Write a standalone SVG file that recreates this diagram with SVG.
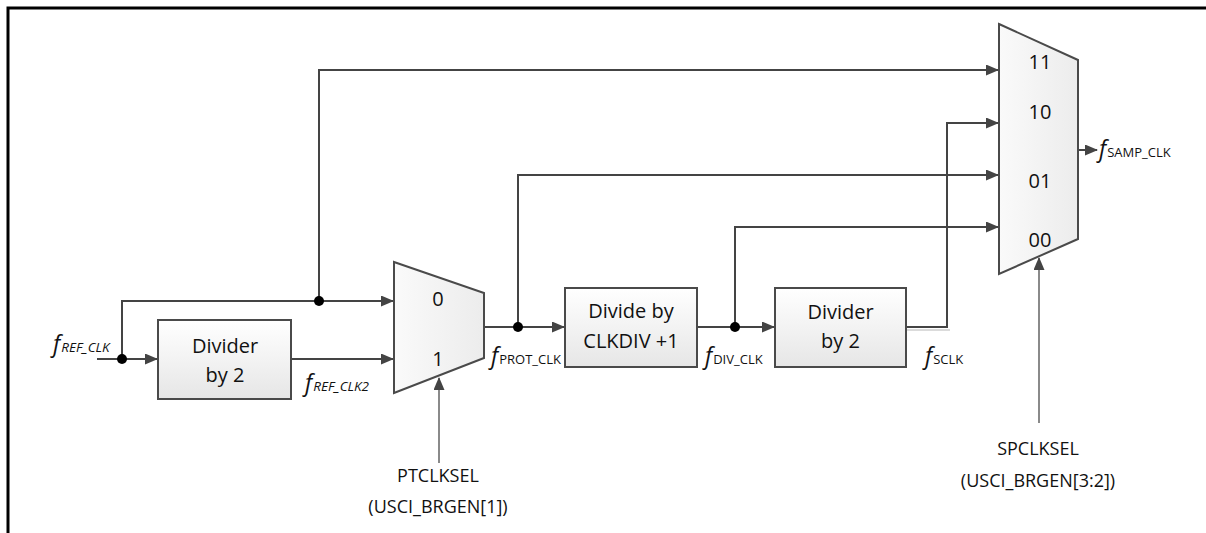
<svg xmlns="http://www.w3.org/2000/svg" width="1206" height="533" viewBox="0 0 1206 533">
<style>
.frame{fill:none;stroke:#000;stroke-width:3}
.box{fill:url(#gb);stroke:#4a4a4a;stroke-width:2}
.mux{fill:url(#gm);stroke:#4a4a4a;stroke-width:2}
.w{fill:none;stroke:#444;stroke-width:2}
.sel{fill:none;stroke:#8a8a8a;stroke-width:2}
.dot{fill:#000}
.t{font-family:"Open Sans","Liberation Sans",sans-serif;font-size:20px;fill:#111;text-anchor:middle}
.lb{font-family:"Open Sans","Liberation Sans",sans-serif;font-size:18px;fill:#111;text-anchor:middle}
.f{font-family:"Open Sans","Liberation Sans",sans-serif;font-size:23px;font-style:italic;fill:#111}
.s{font-size:13px;font-style:normal}
.si{font-size:13.5px;font-style:italic}
</style>
<defs>
<linearGradient id="gb" x1="0" y1="0" x2="0" y2="1"><stop offset="0" stop-color="#ffffff"/><stop offset="1" stop-color="#e6e6e6"/></linearGradient>
<linearGradient id="gm" x1="0" y1="0" x2="1" y2="0"><stop offset="0" stop-color="#fafafa"/><stop offset="1" stop-color="#ececec"/></linearGradient>
<marker id="ar" markerWidth="13" markerHeight="11" refX="12" refY="5.5" orient="auto" markerUnits="userSpaceOnUse"><path d="M0,0 L13,5.5 L0,11 Z" fill="#444"/></marker>
</defs>
<rect width="1206" height="533" fill="#fff"/>
<path class="frame" d="M8,533 V8 H1206"/>

<g id="connectors">
<path class="w" d="M97,359 H157" marker-end="url(#ar)"/>
<path class="w" d="M122,359 V301 H393" marker-end="url(#ar)"/>
<path class="w" d="M319,301 V70 H998" marker-end="url(#ar)"/>
<path class="w" d="M291,359 H393" marker-end="url(#ar)"/>
<path class="w" d="M484,327 H564" marker-end="url(#ar)"/>
<path class="w" d="M518,327 V175 H998" marker-end="url(#ar)"/>
<path class="w" d="M697,327 H774" marker-end="url(#ar)"/>
<path class="w" d="M735,327 V227 H998" marker-end="url(#ar)"/>
<path class="w" d="M906,327 H947 V123 H998" marker-end="url(#ar)"/>
<path d="M906,330 H950" stroke="#cfcfcf" stroke-width="1.5" fill="none"/>
<path class="w" d="M1078,150 H1097" marker-end="url(#ar)"/>
<path class="sel" d="M439,463 V378" marker-end="url(#ar)"/>
<path class="sel" d="M1039,423 V258" marker-end="url(#ar)"/>
<circle class="dot" cx="122" cy="359" r="5"/>
<circle class="dot" cx="319" cy="301" r="5"/>
<circle class="dot" cx="518" cy="327" r="5"/>
<circle class="dot" cx="735" cy="327" r="5"/>
</g>

<g id="div2a">
<rect class="box" x="158" y="320" width="133" height="79"/>
<text class="t" x="225" y="353">Divider</text>
<text class="t" x="225" y="382">by 2</text>
</g>
<g id="mux1">
<path class="mux" d="M394,262 L484,293 L484,358 L394,393 Z"/>
<text class="t" x="438" y="306">0</text>
<text class="t" x="438" y="366">1</text>
</g>
<g id="clkdiv">
<rect class="box" x="565" y="288" width="132" height="79"/>
<text class="t" x="631" y="318">Divide by</text>
<text class="t" x="631" y="348">CLKDIV +1</text>
</g>
<g id="div2b">
<rect class="box" x="775" y="288" width="131" height="79"/>
<text class="t" x="840.5" y="319">Divider</text>
<text class="t" x="840.5" y="348">by 2</text>
</g>
<g id="mux2">
<path class="mux" d="M999,24 L1078,60 L1078,239 L999,274 Z"/>
<text class="t" x="1040" y="69">11</text>
<text class="t" x="1040" y="119">10</text>
<text class="t" x="1040" y="188">01</text>
<text class="t" x="1040" y="247">00</text>
</g>

<g id="labels">
<text class="f" x="53" y="352">f<tspan class="si" dx="1">REF_CLK</tspan></text>
<text class="f" x="305" y="391">f<tspan class="si" dx="1">REF_CLK2</tspan></text>
<text class="f" x="491" y="364">f<tspan class="s" dx="1">PROT_CLK</tspan></text>
<text class="f" x="705" y="364">f<tspan class="s" dx="1">DIV_CLK</tspan></text>
<text class="f" x="925" y="364">f<tspan class="s" dx="1">SCLK</tspan></text>
<text class="f" x="1099" y="157">f<tspan class="s" dx="1">SAMP_CLK</tspan></text>
</g>
<g id="ptclksel">
<text class="lb" x="438" y="482">PTCLKSEL</text>
<text class="lb" x="438" y="513">(USCI_BRGEN[1])</text>
</g>
<g id="spclksel">
<text class="lb" x="1038" y="455">SPCLKSEL</text>
<text class="lb" x="1038" y="487">(USCI_BRGEN[3:2])</text>
</g>
</svg>
